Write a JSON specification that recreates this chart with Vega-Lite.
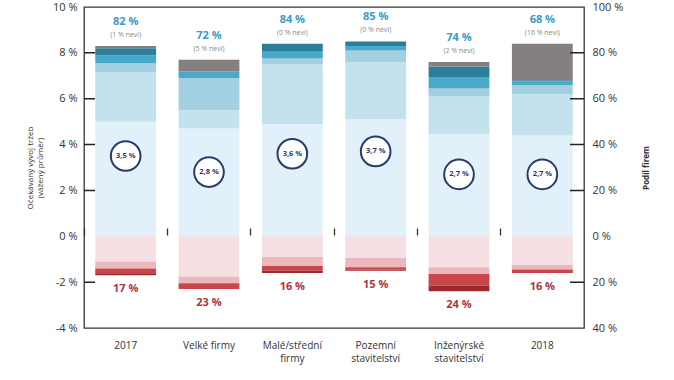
{
  "$schema": "https://vega.github.io/schema/vega-lite/v6.json",
  "width": 500,
  "height": 321,
  "autosize": {"type": "none"},
  "padding": {"left": 84, "top": 7, "right": 90, "bottom": 52},
  "config": {
    "font": "Open Sans",
    "view": {"stroke": "#333333", "strokeWidth": 1.3},
    "axis": {"grid": false, "labelColor": "#333333", "titleColor": "#333333", "domain": false, "zindex": 1}
  },
  "datasets": {
    "cats": [
      {"cat": "2017", "top": 83, "low": -17, "posLabel": "82 %", "neviLabel": "(1 % neví)", "negLabel": "17 %", "avg": 3.5, "avgLabel": "3,5 %"},
      {"cat": "Velké firmy", "top": 77, "low": -23, "posLabel": "72 %", "neviLabel": "(5 % neví)", "negLabel": "23 %", "avg": 2.8, "avgLabel": "2,8 %"},
      {"cat": "Malé/střední firmy", "top": 84, "low": -16, "posLabel": "84 %", "neviLabel": "(0 % neví)", "negLabel": "16 %", "avg": 3.6, "avgLabel": "3,6 %"},
      {"cat": "Pozemní stavitelství", "top": 85, "low": -15, "posLabel": "85 %", "neviLabel": "(0 % neví)", "negLabel": "15 %", "avg": 3.7, "avgLabel": "3,7 %"},
      {"cat": "Inženýrské stavitelství", "top": 76, "low": -24, "posLabel": "74 %", "neviLabel": "(2 % neví)", "negLabel": "24 %", "avg": 2.7, "avgLabel": "2,7 %"},
      {"cat": "2018", "top": 84, "low": -16, "posLabel": "68 %", "neviLabel": "(16 % neví)", "negLabel": "16 %", "avg": 2.7, "avgLabel": "2,7 %"}
    ],
    "segs": [
      {"cat": "2017", "seg": "a", "ord": 1, "value": 50},
      {"cat": "2017", "seg": "b", "ord": 2, "value": 21.5},
      {"cat": "2017", "seg": "c", "ord": 3, "value": 4},
      {"cat": "2017", "seg": "d", "ord": 4, "value": 3.5},
      {"cat": "2017", "seg": "e", "ord": 5, "value": 3},
      {"cat": "2017", "seg": "nevi", "ord": 6, "value": 1},
      {"cat": "2017", "seg": "n1", "ord": 1, "value": -11},
      {"cat": "2017", "seg": "n2", "ord": 2, "value": -3},
      {"cat": "2017", "seg": "n3", "ord": 3, "value": -2.5},
      {"cat": "2017", "seg": "n4", "ord": 4, "value": -0.5},

      {"cat": "Velké firmy", "seg": "a", "ord": 1, "value": 47},
      {"cat": "Velké firmy", "seg": "b", "ord": 2, "value": 8},
      {"cat": "Velké firmy", "seg": "c", "ord": 3, "value": 14},
      {"cat": "Velké firmy", "seg": "d", "ord": 4, "value": 3},
      {"cat": "Velké firmy", "seg": "e", "ord": 5, "value": 0},
      {"cat": "Velké firmy", "seg": "nevi", "ord": 6, "value": 5},
      {"cat": "Velké firmy", "seg": "n1", "ord": 1, "value": -17.5},
      {"cat": "Velké firmy", "seg": "n2", "ord": 2, "value": -3},
      {"cat": "Velké firmy", "seg": "n3", "ord": 3, "value": -2.5},
      {"cat": "Velké firmy", "seg": "n4", "ord": 4, "value": 0},

      {"cat": "Malé/střední firmy", "seg": "a", "ord": 1, "value": 49},
      {"cat": "Malé/střední firmy", "seg": "b", "ord": 2, "value": 26},
      {"cat": "Malé/střední firmy", "seg": "c", "ord": 3, "value": 2.5},
      {"cat": "Malé/střední firmy", "seg": "d", "ord": 4, "value": 3},
      {"cat": "Malé/střední firmy", "seg": "e", "ord": 5, "value": 3.5},
      {"cat": "Malé/střední firmy", "seg": "nevi", "ord": 6, "value": 0},
      {"cat": "Malé/střední firmy", "seg": "n1", "ord": 1, "value": -9},
      {"cat": "Malé/střední firmy", "seg": "n2", "ord": 2, "value": -4},
      {"cat": "Malé/střední firmy", "seg": "n3", "ord": 3, "value": -2},
      {"cat": "Malé/střední firmy", "seg": "n4", "ord": 4, "value": -1},

      {"cat": "Pozemní stavitelství", "seg": "a", "ord": 1, "value": 51},
      {"cat": "Pozemní stavitelství", "seg": "b", "ord": 2, "value": 25},
      {"cat": "Pozemní stavitelství", "seg": "c", "ord": 3, "value": 5},
      {"cat": "Pozemní stavitelství", "seg": "d", "ord": 4, "value": 2},
      {"cat": "Pozemní stavitelství", "seg": "e", "ord": 5, "value": 2},
      {"cat": "Pozemní stavitelství", "seg": "nevi", "ord": 6, "value": 0},
      {"cat": "Pozemní stavitelství", "seg": "n1", "ord": 1, "value": -9.5},
      {"cat": "Pozemní stavitelství", "seg": "n2", "ord": 2, "value": -4},
      {"cat": "Pozemní stavitelství", "seg": "n3", "ord": 3, "value": -1},
      {"cat": "Pozemní stavitelství", "seg": "n4", "ord": 4, "value": -0.5},

      {"cat": "Inženýrské stavitelství", "seg": "a", "ord": 1, "value": 44.5},
      {"cat": "Inženýrské stavitelství", "seg": "b", "ord": 2, "value": 16.5},
      {"cat": "Inženýrské stavitelství", "seg": "c", "ord": 3, "value": 3.5},
      {"cat": "Inženýrské stavitelství", "seg": "d", "ord": 4, "value": 5},
      {"cat": "Inženýrské stavitelství", "seg": "e", "ord": 5, "value": 4.5},
      {"cat": "Inženýrské stavitelství", "seg": "nevi", "ord": 6, "value": 2},
      {"cat": "Inženýrské stavitelství", "seg": "n1", "ord": 1, "value": -13.5},
      {"cat": "Inženýrské stavitelství", "seg": "n2", "ord": 2, "value": -3},
      {"cat": "Inženýrské stavitelství", "seg": "n3", "ord": 3, "value": -5},
      {"cat": "Inženýrské stavitelství", "seg": "n4", "ord": 4, "value": -2.5},

      {"cat": "2018", "seg": "a", "ord": 1, "value": 44},
      {"cat": "2018", "seg": "b", "ord": 2, "value": 18},
      {"cat": "2018", "seg": "c", "ord": 3, "value": 4},
      {"cat": "2018", "seg": "d", "ord": 4, "value": 1.5},
      {"cat": "2018", "seg": "e", "ord": 5, "value": 0.5},
      {"cat": "2018", "seg": "nevi", "ord": 6, "value": 16},
      {"cat": "2018", "seg": "n1", "ord": 1, "value": -12.5},
      {"cat": "2018", "seg": "n2", "ord": 2, "value": -2},
      {"cat": "2018", "seg": "n3", "ord": 3, "value": -1.5},
      {"cat": "2018", "seg": "n4", "ord": 4, "value": 0}
    ],
    "tickvals": [
      {"share": -20},
      {"share": 20},
      {"share": 40},
      {"share": 60},
      {"share": 80}
    ]
  },
  "layer": [
    {
      "layer": [
        {
          "data": {"name": "segs"},
          "mark": {"type": "bar"},
          "encoding": {
            "x": {
              "field": "cat", "type": "nominal", "sort": null,
              "scale": {"paddingInner": 0.27, "paddingOuter": 0.135},
              "axis": {
                "title": null, "orient": "bottom", "labelAngle": 0, "ticks": false,
                "labelFontSize": 10, "labelPadding": 12, "labelLineHeight": 13,
                "labelExpr": "datum.label == 'Malé/střední firmy' ? ['Malé/střední', 'firmy'] : datum.label == 'Pozemní stavitelství' ? ['Pozemní', 'stavitelství'] : datum.label == 'Inženýrské stavitelství' ? ['Inženýrské', 'stavitelství'] : datum.label"
              }
            },
            "y": {
              "field": "value", "type": "quantitative", "stack": "zero",
              "scale": {"domain": [-40, 100], "nice": false},
              "axis": {
                "orient": "right", "title": "Podíl firem", "values": [-40, -20, 0, 20, 40, 60, 80, 100],
                "labelExpr": "abs(datum.value) + ' %'", "ticks": false, "labelPadding": 8, "zindex": 2,
                "labelFontSize": 11, "titleFontSize": 8, "titleFontWeight": "bold", "titleAngle": 270, "titlePadding": 28
              }
            },
            "color": {
              "field": "seg", "type": "nominal", "legend": null,
              "scale": {
                "domain": ["a", "b", "c", "d", "e", "nevi", "n1", "n2", "n3", "n4"],
                "range": ["#e2f1f9", "#c3e2ed", "#a3d0e1", "#4aa9c8", "#2b7f9b", "#858080", "#f6dfe2", "#ebb9bd", "#c8464b", "#9e2a30"]
              }
            },
            "order": {"field": "ord", "type": "quantitative"}
          }
        },
        {
          "data": {"name": "tickvals"},
          "mark": {"type": "rule", "color": "#222222", "strokeWidth": 1.5, "strokeDash": [14, 475, 11, 100]},
          "encoding": {"y": {"field": "share", "type": "quantitative"}}
        },
        {
          "data": {"name": "cats"},
          "mark": {"type": "text", "dy": -24, "fontSize": 11, "fontWeight": "bold", "color": "#3a9ac8", "baseline": "middle"},
          "encoding": {
            "x": {"field": "cat", "type": "nominal", "sort": null},
            "y": {"field": "top", "type": "quantitative"},
            "text": {"field": "posLabel"}
          }
        },
        {
          "data": {"name": "cats"},
          "mark": {"type": "text", "dy": -11, "fontSize": 7, "color": "#8a8a8a", "baseline": "middle"},
          "encoding": {
            "x": {"field": "cat", "type": "nominal", "sort": null},
            "y": {"field": "top", "type": "quantitative"},
            "text": {"field": "neviLabel"}
          }
        },
        {
          "data": {"name": "cats"},
          "mark": {"type": "text", "dy": 14, "fontSize": 11, "fontWeight": "bold", "color": "#ad3440", "baseline": "middle"},
          "encoding": {
            "x": {"field": "cat", "type": "nominal", "sort": null},
            "y": {"field": "low", "type": "quantitative"},
            "text": {"field": "negLabel"}
          }
        },
        {
          "mark": {"type": "rule", "color": "#333333", "strokeWidth": 1.3},
          "encoding": {"y": {"datum": 0}}
        }
      ]
    },
    {
      "data": {"name": "cats"},
      "layer": [
        {
          "mark": {"type": "point", "shape": "circle", "filled": true, "fill": "white", "stroke": "#2b3a6b", "strokeWidth": 2, "size": 880, "opacity": 1},
          "encoding": {
            "x": {
              "field": "cat", "type": "nominal", "sort": null,
              "axis": {
                "title": null, "orient": "bottom", "offset": -93, "labels": false, "domain": false,
                "ticks": true, "tickSize": -7, "bandPosition": -0.18, "tickColor": "#333333", "tickWidth": 1.3
              }
            },
            "y": {
              "field": "avg", "type": "quantitative",
              "scale": {"domain": [-4, 10], "nice": false},
              "axis": {
                "orient": "left", "title": ["Očekávaný vývoj tržeb", "(vážený průměr)"],
                "values": [-4, -2, 0, 2, 4, 6, 8, 10], "labelExpr": "datum.value + ' %'",
                "ticks": false, "labelPadding": 7, "labelFontSize": 11, "zindex": 2,
                "titleFontSize": 8, "titleFontWeight": "normal", "titlePadding": 8
              }
            }
          }
        },
        {
          "mark": {"type": "text", "fontSize": 7.5, "fontWeight": "bold", "color": "#2b3a6b", "baseline": "middle"},
          "encoding": {
            "x": {"field": "cat", "type": "nominal", "sort": null},
            "y": {"field": "avg", "type": "quantitative"},
            "text": {"field": "avgLabel"}
          }
        }
      ]
    }
  ],
  "resolve": {"scale": {"y": "independent"}, "axis": {"x": "independent", "y": "independent"}}
}
